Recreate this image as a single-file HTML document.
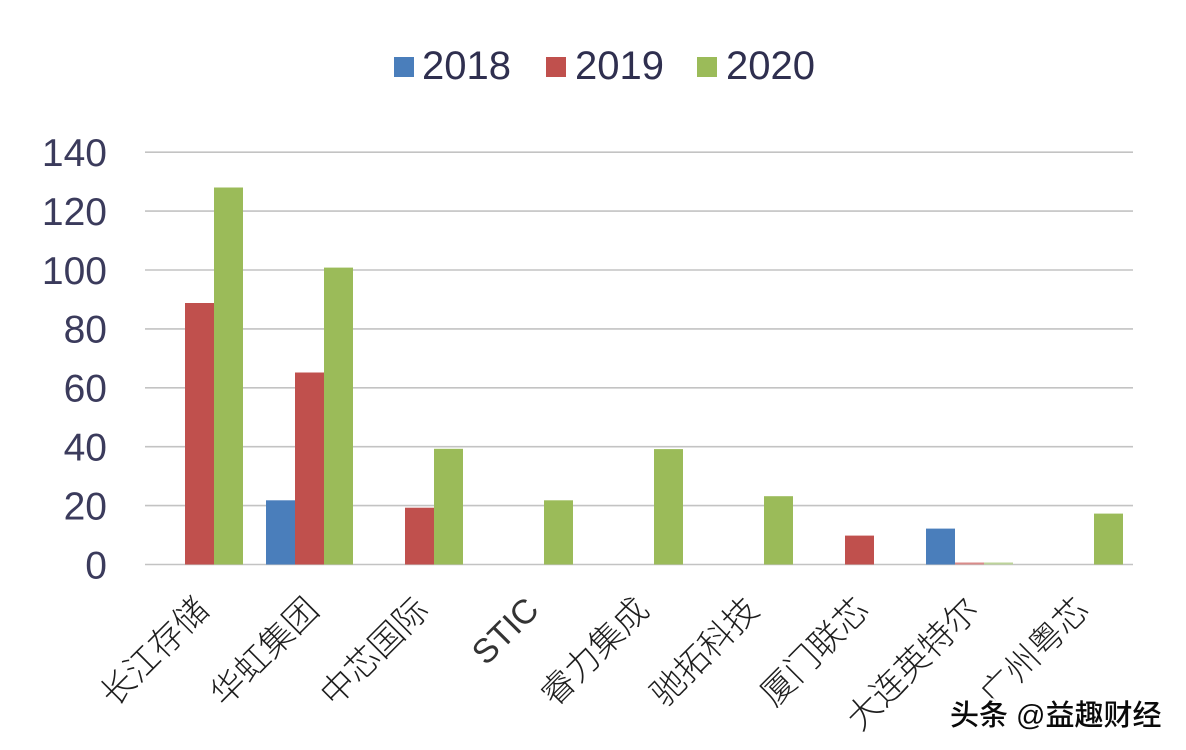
<!DOCTYPE html>
<html><head><meta charset="utf-8"><style>
html,body{margin:0;padding:0;background:#fff;}
svg{display:block;}
</style></head><body>
<svg width="1186" height="750" viewBox="0 0 1186 750" xmlns="http://www.w3.org/2000/svg">
<rect width="1186" height="750" fill="#ffffff"/>
<!-- legend -->
<g font-family="Liberation Sans, sans-serif" font-size="40" fill="#2f2f4f">
<rect x="394" y="57" width="20" height="20" fill="#4a7ebb"/>
<text x="422" y="79">2018</text>
<rect x="546" y="57" width="20" height="20" fill="#c0504d"/>
<text x="575" y="79">2019</text>
<rect x="697" y="57" width="20" height="20" fill="#9bbb59"/>
<text x="726" y="79">2020</text>
</g>
<!-- gridlines -->
<g stroke="#c3c3c3" stroke-width="1.6">
<line x1="145" x2="1133" y1="152.2" y2="152.2"/>
<line x1="145" x2="1133" y1="211.1" y2="211.1"/>
<line x1="145" x2="1133" y1="270.0" y2="270.0"/>
<line x1="145" x2="1133" y1="328.9" y2="328.9"/>
<line x1="145" x2="1133" y1="387.8" y2="387.8"/>
<line x1="145" x2="1133" y1="446.7" y2="446.7"/>
<line x1="145" x2="1133" y1="505.6" y2="505.6"/>
<line x1="145" x2="1133" y1="564.5" y2="564.5"/>
</g>
<!-- y labels -->
<g font-family="Liberation Sans, sans-serif" font-size="39" fill="#3b3b5c" text-anchor="end">
<text x="107" y="166">140</text>
<text x="107" y="224.9">120</text>
<text x="107" y="283.8">100</text>
<text x="107" y="342.7">80</text>
<text x="107" y="401.6">60</text>
<text x="107" y="460.5">40</text>
<text x="107" y="519.4">20</text>
<text x="107" y="578.3">0</text>
</g>
<!-- bars -->
<g>
<rect x="185" y="303.0" width="29" height="261.5" fill="#c0504d"/>
<rect x="214" y="187.5" width="29" height="377" fill="#9bbb59"/>

<rect x="266" y="500.3" width="29" height="64.2" fill="#4a7ebb"/>
<rect x="295" y="372.5" width="29" height="192" fill="#c0504d"/>
<rect x="324" y="267.6" width="29" height="296.9" fill="#9bbb59"/>

<rect x="405" y="507.7" width="29" height="56.8" fill="#c0504d"/>
<rect x="434" y="448.8" width="29" height="115.7" fill="#9bbb59"/>

<rect x="544" y="500.3" width="29" height="64.2" fill="#9bbb59"/>

<rect x="654" y="449.1" width="29" height="115.4" fill="#9bbb59"/>

<rect x="764" y="496.2" width="29" height="68.3" fill="#9bbb59"/>

<rect x="845" y="535.6" width="29" height="28.9" fill="#c0504d"/>

<rect x="926" y="528.6" width="29" height="35.9" fill="#4a7ebb"/>
<rect x="955" y="562.5" width="29" height="2" fill="#d98b89"/>
<rect x="984" y="562.5" width="29" height="2" fill="#bcd39a"/>

<rect x="1094" y="513.6" width="29" height="50.9" fill="#9bbb59"/>
</g>
<!-- category labels -->
<g font-family="Liberation Sans, Noto Sans CJK SC, sans-serif" font-size="34" font-weight="300" fill="#1e1e1e" text-anchor="end" dominant-baseline="central">
<text transform="translate(203,604) rotate(-45)">长江存储</text>
<text transform="translate(313,604) rotate(-45)">华虹集团</text>
<text transform="translate(423,604) rotate(-45)">中芯国际</text>
<text transform="translate(533,604) rotate(-45)" font-weight="400" fill="#333">STIC</text>
<text transform="translate(643,604) rotate(-45)">睿力集成</text>
<text transform="translate(753,604) rotate(-45)">驰拓科技</text>
<text transform="translate(863,604) rotate(-45)">厦门联芯</text>
<text transform="translate(973,604) rotate(-45)">大连英特尔</text>
<text transform="translate(1083,604) rotate(-45)">广州粤芯</text>
</g>
<!-- watermark -->
<text x="950" y="725" font-family="Liberation Sans, Noto Sans CJK SC, sans-serif" font-size="29" font-weight="500" fill="#0a0a0a" stroke="#ffffff" stroke-width="5" paint-order="stroke" stroke-linejoin="round">头条 @益趣财经</text>
</svg>
</body></html>
